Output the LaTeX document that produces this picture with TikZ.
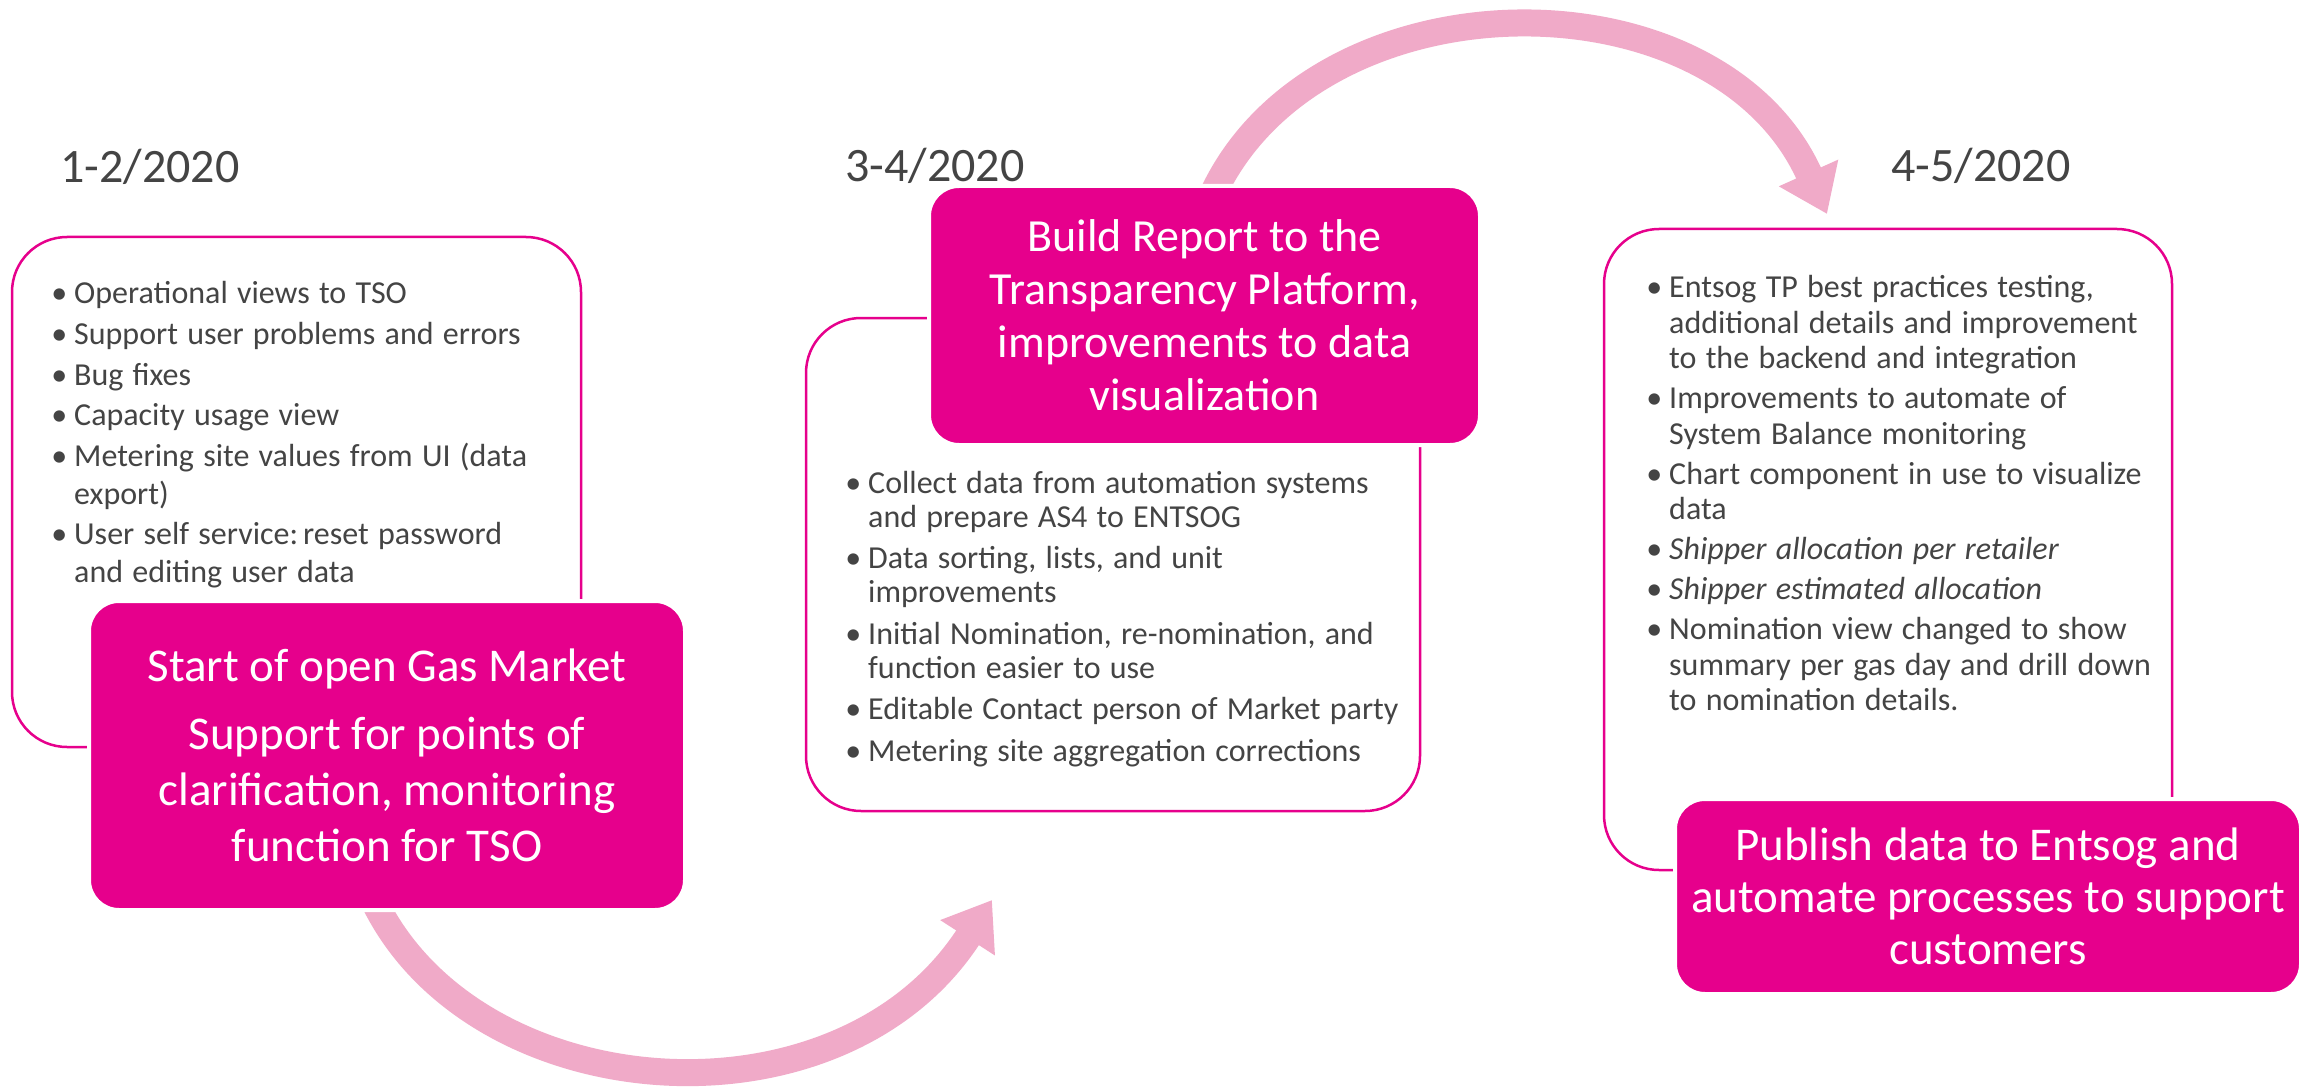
\documentclass[tikz,border=0pt]{standalone}
\usepackage{fontspec}
\setmainfont{Carlito}
\usepackage{enumitem}
\usetikzlibrary{arrows.meta}
\definecolor{mag}{RGB}{230,0,140}
\definecolor{pinkarrow}{RGB}{240,170,200}
\definecolor{txtgray}{RGB}{68,68,68}
\newcommand{\listfont}[2]{\fontsize{#1}{#2}\selectfont\spaceskip=0.29em plus 0.05em\relax\raggedright}
\begin{document}
\begin{tikzpicture}[x=1pt,y=-1pt,
  outline/.style={rectangle, draw=mag, line width=2.5pt, fill=white, rounded corners=55pt, inner sep=0pt},
  hilite/.style={rectangle, fill=mag, draw=white, line width=4pt, rounded corners=30pt, inner sep=0pt, text=white, align=center},
  datelabel/.style={anchor=west, inner sep=0pt, text=txtgray, font=\fontsize{48}{58}\selectfont},
  bulletlist/.style={anchor=north west, inner sep=0pt, text=txtgray},
  flow/.style={draw=pinkarrow, line width=27pt, -{Triangle[length=45pt,width=62pt]}}
]
\useasboundingbox (0,0) rectangle (2320,1091);
\fill[white] (0,0) rectangle (2320,1091);

% arrows (behind boxes)
\coordinate (flowAstart) at (376,905);
\coordinate (flowAend) at (992,900);
\coordinate (flowBstart) at (1208,205);
\coordinate (flowBend) at (1827,214);
\draw[flow] (flowAstart) .. controls (480,1110) and (840,1135) .. (flowAend);
\draw[flow] (flowBstart) .. controls (1305,-30) and (1715,-35) .. (flowBend);

% date labels
\node[datelabel] (dateA) at (60,167) {1-2/2020};
\node[datelabel] (dateB) at (845,166) {3-4/2020};
\node[datelabel] (dateC) at (1891,166) {4-5/2020};

% white outlined boxes
\node[outline, minimum width=569pt, minimum height=510pt] (boxA) at (296.5,492) {};
\node[outline, minimum width=614pt, minimum height=493pt] (boxB) at (1113,564.5) {};
\node[outline, minimum width=568pt, minimum height=641pt] (boxC) at (1888,549.5) {};

% bullet lists
\node[bulletlist, text width=518pt] (listA) at (56,266) {\listfont{32}{37.5}
\begin{itemize}[leftmargin=18pt,labelsep=7pt,itemsep=3.2pt,topsep=0pt,parsep=0pt,partopsep=0pt,label=\textbullet]
\item\strut Operational views to TSO
\item Support user problems and errors
\item Bug fixes
\item Capacity usage view
\item Metering site values from UI (data\newline export)
\item User self service: reset password\newline and editing user data
\end{itemize}};

\node[bulletlist, text width=560pt] (listB) at (850,459) {\listfont{32}{34}
\begin{itemize}[leftmargin=18pt,labelsep=7pt,itemsep=7.5pt,topsep=0pt,parsep=0pt,partopsep=0pt,label=\textbullet]
\item\strut Collect data from automation systems\newline and prepare AS4 to ENTSOG
\item Data sorting, lists, and unit\newline improvements
\item Initial Nomination, re-nomination, and\newline function easier to use
\item Editable Contact person of Market party
\item Metering site aggregation corrections
\end{itemize}};

\node[bulletlist, text width=505pt] (listC) at (1651,262) {\listfont{32}{35.5}
\begin{itemize}[leftmargin=18pt,labelsep=7pt,itemsep=4.5pt,topsep=0pt,parsep=0pt,partopsep=0pt,label=\textbullet]
\item\strut Entsog TP best practices testing,\newline additional details and improvement\newline to the backend and integration
\item Improvements to automate of\newline System Balance monitoring
\item Chart component in use to visualize\newline data
\item \textit{Shipper allocation per retailer}
\item \textit{Shipper estimated allocation}
\item Nomination view changed to show\newline summary per gas day and drill down\newline to nomination details.
\end{itemize}};

% magenta boxes
\node[hilite, minimum width=596pt, minimum height=309pt, font=\fontsize{47}{56}\selectfont] (hiA) at (387,755.5)
  {Start of open Gas Market\\[12pt]Support for points of\\clarification, monitoring\\function for TSO};
\node[hilite, minimum width=551pt, minimum height=259pt, font=\fontsize{46}{53}\selectfont] (hiB) at (1204.5,315.5)
  {Build Report to the\\Transparency Platform,\\improvements to data\\visualization};
\node[hilite, minimum width=626pt, minimum height=195pt, font=\fontsize{47}{52}\selectfont] (hiC) at (1988,896.5)
  {Publish data to Entsog and\\automate processes to support\\customers};
\end{tikzpicture}
\end{document}
